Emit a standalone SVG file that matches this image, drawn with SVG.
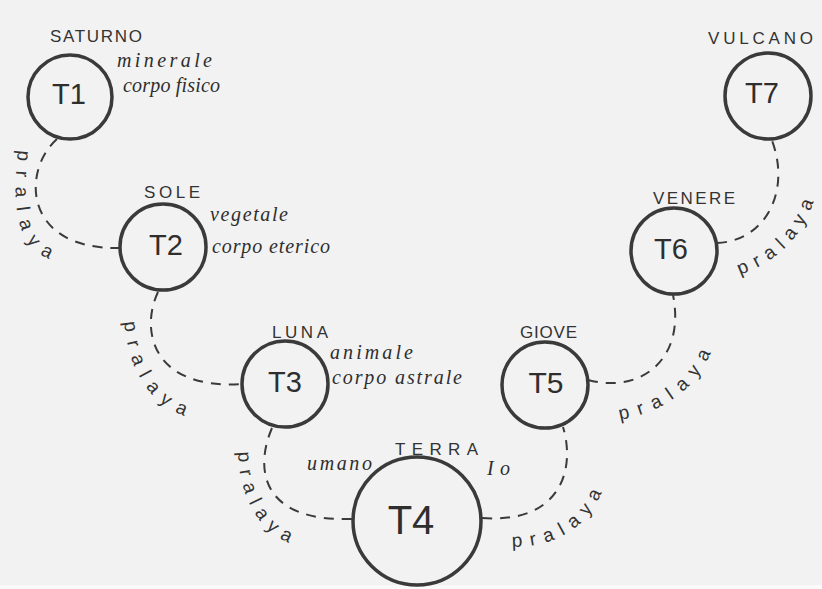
<svg xmlns="http://www.w3.org/2000/svg" width="822" height="589" viewBox="0 0 822 589">
  <style>
    .paper { fill: #f2f2f2; }
    .ring { fill: none; stroke: #3a3a3a; stroke-width: 3.5; }
    .tag { font-family: "Liberation Sans", "DejaVu Sans", sans-serif; fill: #2e2e2e; text-anchor: middle; }
    .planet { font-family: "Liberation Sans", "DejaVu Sans", sans-serif; fill: #333; font-size: 17px; }
    .note { font-family: "Liberation Serif", "DejaVu Serif", serif; font-style: italic; fill: #2e2e2e; font-size: 20px; }
    .link { fill: none; stroke: #3a3a3a; stroke-width: 2; stroke-dasharray: 10 8; }
    .pralaya { font-family: "Liberation Sans", "DejaVu Sans", sans-serif; fill: #333; font-size: 19px; }
  </style>
  <defs>
    <!-- baselines for the rotated "pralaya" captions -->
    <path id="p12" d="M 18,150 C 13,200 11,252 60,262"/>
    <path id="p23" d="M 124,322 C 129,370 149,413 206,421"/>
    <path id="p34" d="M 238,452 C 239,492 257,541 306,547"/>
    <path id="p45" d="M 512,547 C 562,547 603,520 609,462"/>
    <path id="p56" d="M 620,420 C 666,411 707,386 720,324"/>
    <path id="p67" d="M 740,275 C 774,262 804,240 816,193"/>
  </defs>

  <rect class="paper" x="0" y="0" width="822" height="589"/>
  <rect x="0" y="585" width="822" height="4" fill="#fafafa"/>

  <g id="connectors">
    <path class="link" d="M 57,139 C 22,170 22,250 120,248"/>
    <path class="link" d="M 158,292 C 140,330 152,390 242,384"/>
    <path class="link" d="M 272,428 C 254,470 262,522 352,519"/>
    <path class="link" d="M 482,518 C 560,524 576,470 563,427"/>
    <path class="link" d="M 588,380 C 640,394 686,360 673,295"/>
    <path class="link" d="M 717,243 C 766,241 792,190 771,138"/>
    <text class="pralaya"><textPath href="#p12" textLength="122" lengthAdjust="spacing">pralaya</textPath></text>
    <text class="pralaya"><textPath href="#p23" textLength="118" lengthAdjust="spacing">pralaya</textPath></text>
    <text class="pralaya"><textPath href="#p34" textLength="110" lengthAdjust="spacing">pralaya</textPath></text>
    <text class="pralaya"><textPath href="#p45" textLength="112" lengthAdjust="spacing">pralaya</textPath></text>
    <text class="pralaya"><textPath href="#p56" textLength="118" lengthAdjust="spacing">pralaya</textPath></text>
    <text class="pralaya"><textPath href="#p67" textLength="108" lengthAdjust="spacing">pralaya</textPath></text>
  </g>

  <g id="T1">
    <circle class="ring" cx="70" cy="97" r="42"/>
    <text class="tag" x="69" y="104" font-size="29">T1</text>
    <text class="planet" x="50" y="42" textLength="92">SATURNO</text>
    <text class="note" x="117" y="67" textLength="95">minerale</text>
    <text class="note" x="123" y="92" textLength="97">corpo fisico</text>
  </g>

  <g id="T2">
    <circle class="ring" cx="163" cy="247" r="43"/>
    <text class="tag" x="166" y="255" font-size="29">T2</text>
    <text class="planet" x="144" y="198" textLength="56">SOLE</text>
    <text class="note" x="210" y="221" textLength="78">vegetale</text>
    <text class="note" x="212" y="253" textLength="118">corpo eterico</text>
  </g>

  <g id="T3">
    <circle class="ring" cx="285" cy="384" r="43"/>
    <text class="tag" x="285" y="392" font-size="29">T3</text>
    <text class="planet" x="272" y="338" textLength="56">LUNA</text>
    <text class="note" x="330" y="359" textLength="83">animale</text>
    <text class="note" x="332" y="384" textLength="130">corpo astrale</text>
  </g>

  <g id="T4">
    <circle class="ring" cx="417" cy="521" r="64"/>
    <text class="tag" x="411" y="534" font-size="40">T4</text>
    <text class="planet" x="395" y="455" font-size="21" textLength="83">TERRA</text>
    <text class="note" x="307" y="470" textLength="65">umano</text>
    <text class="note" x="487" y="475" textLength="23">Io</text>
  </g>

  <g id="T5">
    <circle class="ring" cx="545" cy="385" r="43"/>
    <text class="tag" x="546" y="393" font-size="30">T5</text>
    <text class="planet" x="520" y="338" textLength="57">GIOVE</text>
  </g>

  <g id="T6">
    <circle class="ring" cx="674" cy="251" r="43"/>
    <text class="tag" x="671" y="259" font-size="29">T6</text>
    <text class="planet" x="653" y="204" textLength="82">VENERE</text>
  </g>

  <g id="T7">
    <circle class="ring" cx="768" cy="96" r="43"/>
    <text class="tag" x="762" y="103" font-size="29">T7</text>
    <text class="planet" x="708" y="44" font-size="21" textLength="105">VULCANO</text>
  </g>
</svg>
